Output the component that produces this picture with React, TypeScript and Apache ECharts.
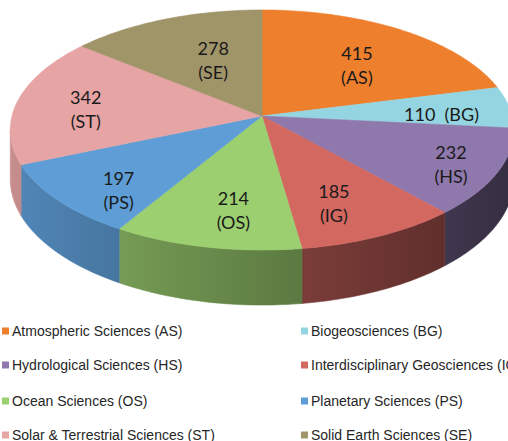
import React, { useEffect, useRef } from "react";
import * as echarts from "echarts";

const categories = [
  "Atmospheric Sciences (AS)",
  "Biogeosciences (BG)",
  "Hydrological Sciences (HS)",
  "Interdisciplinary Geosciences (IG)",
  "Ocean Sciences (OS)",
  "Planetary Sciences (PS)",
  "Solar & Terrestrial Sciences (ST)",
  "Solid Earth Sciences (SE)",
];
const abbreviations = ["AS", "BG", "HS", "IG", "OS", "PS", "ST", "SE"];
const values = [415, 110, 232, 185, 214, 197, 342, 278];

const colors = ["#EE7F2D", "#95D5E1", "#8E78AC", "#D36861", "#9CCF70", "#5E9DD6", "#E6A4A4", "#A09469"];
// label nudges (px) relative to the computed 3D label anchor
const labelNudge = [[-6, 0], [6, -6], [27, -1], [-8, -4.5], [9, -4], [-4, 6], [-5, -5.5], [21, 4]];
// legend grid: two columns, four rows
const legendColumnX = [2, 301];
const legendRowY = [323, 357, 393, 427];

// 3D projection parameters
const CX = 262, CY = 116, SX = 250, SY = 118.4, K = 0.1166, DEPTH = 48.6;
const total = values.reduce((a, b) => a + b, 0);
const RIGHT_EDGE = (Math.acos(-K) * 180) / Math.PI; // ~96.7
const LEFT_EDGE = 360 - RIGHT_EDGE;

function project(deg: number, r: number, h: number) {
  const a = (deg * Math.PI) / 180;
  const X = r * Math.sin(a);
  const Y = r * Math.cos(a);
  const den = 1 + K * Y;
  return [CX + (SX * X) / den, CY - (SY * Y - h) / den];
}

function shade(hex: string, f: number) {
  const n = parseInt(hex.slice(1), 16);
  const r = Math.round(((n >> 16) & 255) * f);
  const g = Math.round(((n >> 8) & 255) * f);
  const b = Math.round((n & 255) * f);
  return `rgb(${r},${g},${b})`;
}
function wallFactor(deg: number) {
  const X = Math.sin((deg * Math.PI) / 180);
  return 0.62 - 0.25 * X;
}

function arc(a0: number, a1: number, h: number) {
  const pts: number[][] = [];
  const n = Math.max(2, Math.ceil(Math.abs(a1 - a0)));
  for (let j = 0; j <= n; j++) pts.push(project(a0 + ((a1 - a0) * j) / n, 1, h));
  return pts;
}

function makeSeries(i: number) {
  return {
    type: "custom",
    name: categories[i],
    coordinateSystem: "none",
    silent: true,
    itemStyle: { color: colors[i] },
    data: [values[i]],
    renderItem: (params: any, api: any) => {
      const v = api.value(0);
      let before = 0;
      for (let j = 0; j < i; j++) before += values[j];
      const a0 = (before / total) * 360;
      const a1 = ((before + v) / total) * 360;
      const children: any[] = [];
      const s = Math.max(a0, RIGHT_EDGE);
      const e = Math.min(a1, LEFT_EDGE);
      if (e > s) {
        const top = arc(s, e, 0);
        const bottom = arc(e, s, DEPTH);
        const leftCol = shade(colors[i], wallFactor(e));
        const rightCol = shade(colors[i], wallFactor(s));
        const fill = new echarts.graphic.LinearGradient(0, 0, 1, 0, [
          { offset: 0, color: leftCol },
          { offset: 1, color: rightCol },
        ]);
        children.push({
          type: "polygon",
          shape: { points: top.concat(bottom) },
          style: { fill, stroke: fill, lineWidth: 0.6 },
        });
      }
      const pts = [[CX, CY]].concat(arc(a0, a1, 0));
      children.push({
        type: "polygon",
        shape: { points: pts },
        style: { fill: colors[i], stroke: colors[i], lineWidth: 0.6 },
      });
      const mid = (a0 + a1) / 2;
      const p = project(mid, 0.7, 0);
      const txt = i === 1 ? `${v}  (${abbreviations[i]})` : `${v}\n(${abbreviations[i]})`;
      children.push({
        type: "text",
        z2: 100,
        x: p[0] + labelNudge[i][0],
        y: p[1] + 10 + labelNudge[i][1],
        style: {
          text: txt,
          fill: "#1a1a1a",
          fontFamily: "Lato",
          fontSize: 18,
          align: "center",
          verticalAlign: "middle",
          lineHeight: 24,
        },
      });
      return { type: "group", children };
    },
  };
}

function makeLegend(i: number) {
  return {
    orient: "horizontal",
    left: legendColumnX[i % 2],
    top: legendRowY[Math.floor(i / 2)],
    itemWidth: 7,
    itemHeight: 7,
    icon: "rect",
    selectedMode: false,
    padding: 0,
    data: [categories[i]],
    textStyle: { fontFamily: "Liberation Sans", fontSize: 14, color: "#262626", lineHeight: 16, padding: [0, 0, 0, -2] },
  };
}

export default function App() {
  const ref = useRef<HTMLDivElement>(null);
  useEffect(() => {
    if (!ref.current) return;
    const chart = echarts.init(ref.current, null, { renderer: "svg" });
    chart.setOption({
      animation: false,
      backgroundColor: "#ffffff",
      legend: categories.map((_, i) => makeLegend(i)),
      series: values.map((_, i) => makeSeries(i)),
    });
    return () => chart.dispose();
  }, []);
  return <div ref={ref} style={{ position: "absolute", left: 0, top: 0, width: 508, height: 441 }} />;
}
